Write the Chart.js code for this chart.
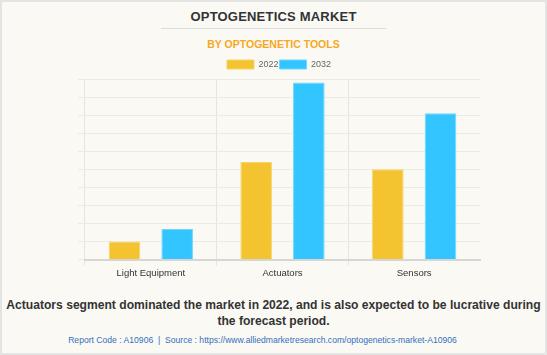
<!DOCTYPE html>
<html><head><meta charset="utf-8">
<script src="https://cdn.jsdelivr.net/npm/chart.js@4/dist/chart.umd.min.js"></script>
<style>
html,body{margin:0;padding:0;}
body{width:547px;height:355px;position:relative;background:#faf9f4;font-family:"Liberation Sans",Arial,sans-serif;overflow:hidden;}
#frame{position:absolute;left:0;top:0;width:543px;height:351px;border:2px solid #e4e4e2;}
#title{position:absolute;left:0;width:547px;top:9px;text-align:center;font-weight:bold;font-size:13px;letter-spacing:0.2px;color:#333;}
#sep{position:absolute;left:161px;width:225px;top:28px;height:1px;background:#dcdcdc;}
#sub{position:absolute;left:0;width:547px;top:38px;text-align:center;font-weight:bold;font-size:10.5px;color:#f7a823;}
#wrap{position:absolute;left:0;top:0;width:547px;height:281px;}
#cap{position:absolute;left:0;width:547px;top:297px;text-align:center;font-weight:bold;font-size:12.1px;line-height:16px;color:#333;white-space:nowrap;}
#src{position:absolute;left:-11px;width:547px;top:335px;text-align:center;font-size:8.6px;color:#3470bd;white-space:nowrap;}
</style></head>
<body>
<div id="frame"></div>
<div id="title">OPTOGENETICS MARKET</div>
<div id="sep"></div>
<div id="sub">BY OPTOGENETIC TOOLS</div>
<div id="wrap"><canvas id="c"></canvas></div>
<div id="cap">Actuators segment dominated the market in 2022, and is also expected to be lucrative during<br>the forecast period.</div>
<div id="src">Report Code : A10906 &nbsp;|&nbsp; Source : https://www.alliedmarketresearch.com/optogenetics-market-A10906</div>
<script>
const categories = ["Light Equipment", "Actuators", "Sensors"];
const seriesNames = ["2022", "2032"];
const values2022 = [1.0, 5.4, 5.0];
const values2032 = [1.7, 9.8, 8.1];

new Chart(document.getElementById('c'), {
  type: 'bar',
  data: {
    labels: categories,
    datasets: [
      {label: seriesNames[0], data: values2022, backgroundColor: '#f4c430', borderColor: '#f7d46a', borderWidth: 1, categoryPercentage: 0.8, barPercentage: 0.6},
      {label: seriesNames[1], data: values2032, backgroundColor: '#33c5ff', borderColor: '#6fd6ff', borderWidth: 1, categoryPercentage: 0.8, barPercentage: 0.6}
    ]
  },
  options: {
    responsive: true,
    maintainAspectRatio: false,
    animation: false,
    layout: {padding: {left: 78, right: 67, top: 59, bottom: 0}},
    plugins: {
      legend: {
        display: true,
        position: 'top',
        labels: {boxWidth: 27, boxHeight: 9, padding: 1, color: '#666', font: {family: 'Liberation Sans', size: 9}}
      },
      tooltip: {enabled: false}
    },
    scales: {
      x: {
        grid: {color: (ctx) => (ctx.type === 'tick') ? '#e6e5e0' : 'rgba(0,0,0,0)', tickLength: 6, drawTicks: true},
        border: {color: '#d6d6d4', width: 2},
        ticks: {color: '#333', font: {family: 'Liberation Sans', size: 9.5}, padding: 2}
      },
      y: {
        min: 0, max: 10,
        ticks: {display: false, stepSize: 1},
        grid: {color: '#ebeae5', tickLength: 7, drawTicks: true},
        border: {display: false}
      }
    }
  }
});
</script>
</body></html>
